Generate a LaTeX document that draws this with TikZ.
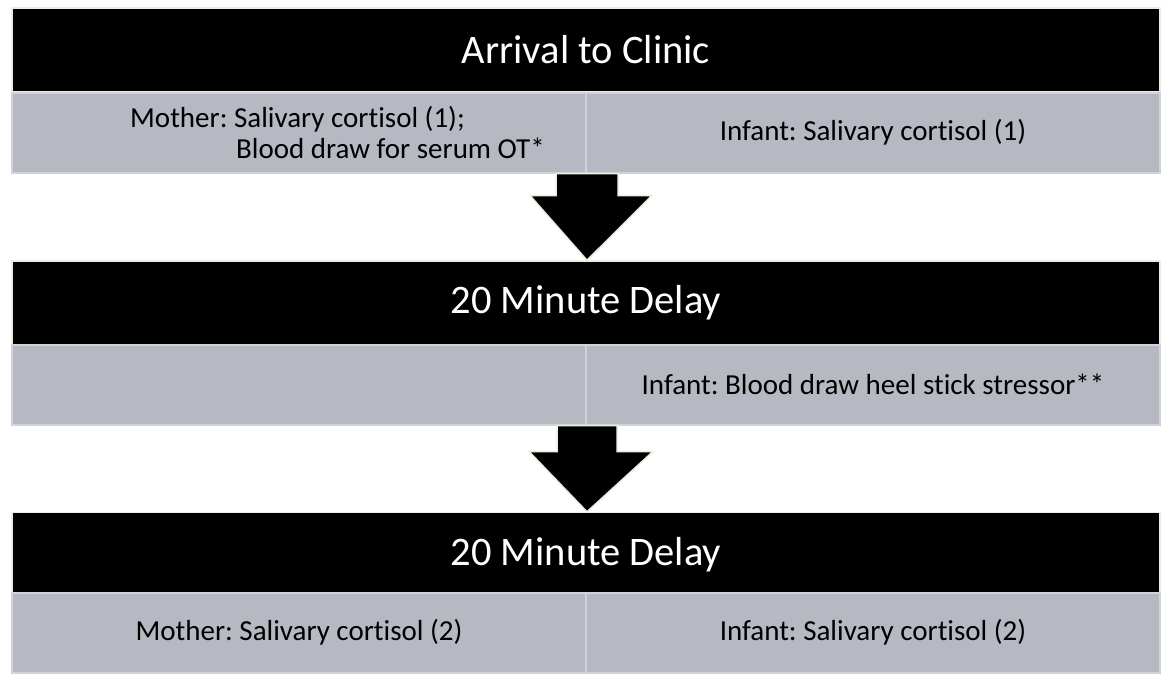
\documentclass[tikz,border=0pt]{standalone}
\usepackage{fontspec}
\setmainfont[Ligatures={NoCommon}]{Carlito}
\usetikzlibrary{calc}
\definecolor{cellgray}{HTML}{B7B9C2}
\definecolor{cellline}{HTML}{D0D3DC}
\definecolor{beige}{HTML}{EEECE1}
\tikzset{
  band/.style={rectangle, fill=black, draw=beige, line width=1.5pt, minimum width=1148pt, minimum height=84pt, inner sep=0pt, text=white, font=\fontsize{40.5}{44}\selectfont},
  cell/.style={rectangle, fill=cellgray, draw=cellline, line width=2pt, minimum width=574pt, minimum height=80pt, inner sep=0pt},
  celltext/.style={font=\fontsize{29}{31}\selectfont, inner sep=0pt},
  bigarrow/.style={fill=black, draw=beige, line width=1.5pt, line join=miter},
}
\begin{document}
\frenchspacing
\begin{tikzpicture}[x=1pt,y=-1pt]
\useasboundingbox (0,0) rectangle (1162,673);
% panel 1
\node[band] (t1) at (586,50) {Arrival to Clinic};
\node[cell] (m1) at (299,132.5) {};
\node[cell] (i1) at (873,132.5) {};
\node[celltext, anchor=west, align=left] (m1t) at (130,132.5) {Mother: Salivary cortisol (1);\\\hspace*{106pt}Blood draw for serum OT*};
\node[celltext] (i1t) at (i1) {Infant: Salivary cortisol (1)};
% panel 2
\node[band] (t2) at (586,303) {20 Minute Delay};
\node[cell] (m2) at (299,384.5) {};
\node[cell] (i2) at (873,384.5) {};
\node[celltext] (i2t) at (i2) {Infant: Blood draw heel stick stressor**};
% panel 3
\node[band] (t3) at (586,554.5) {20 Minute Delay};
\node[cell] (m3) at (299,632.5) {};
\node[cell] (i3) at (873,632.5) {};
\node[celltext] (m3t) at (m3) {Mother: Salivary cortisol (2)};
\node[celltext] (i3t) at (i3) {Infant: Salivary cortisol (2)};
% arrows
\draw[bigarrow] ($(m1.south east)+(-31,0)$) -- ($(m1.south east)+(-31,22)$) -- ($(m1.south east)+(-57,22)$)
  -- (m1.south east |- t2.north)
  -- ($(m1.south east)+(65,22)$) -- ($(m1.south east)+(31,22)$) -- ($(m1.south east)+(31,0)$) -- cycle;
\draw[bigarrow] ($(m2.south east)+(-30,0)$) -- ($(m2.south east)+(-30,26)$) -- ($(m2.south east)+(-58,26)$)
  -- (m2.south east |- t3.north)
  -- ($(m2.south east)+(66,26)$) -- ($(m2.south east)+(30,26)$) -- ($(m2.south east)+(30,0)$) -- cycle;
\end{tikzpicture}
\end{document}
